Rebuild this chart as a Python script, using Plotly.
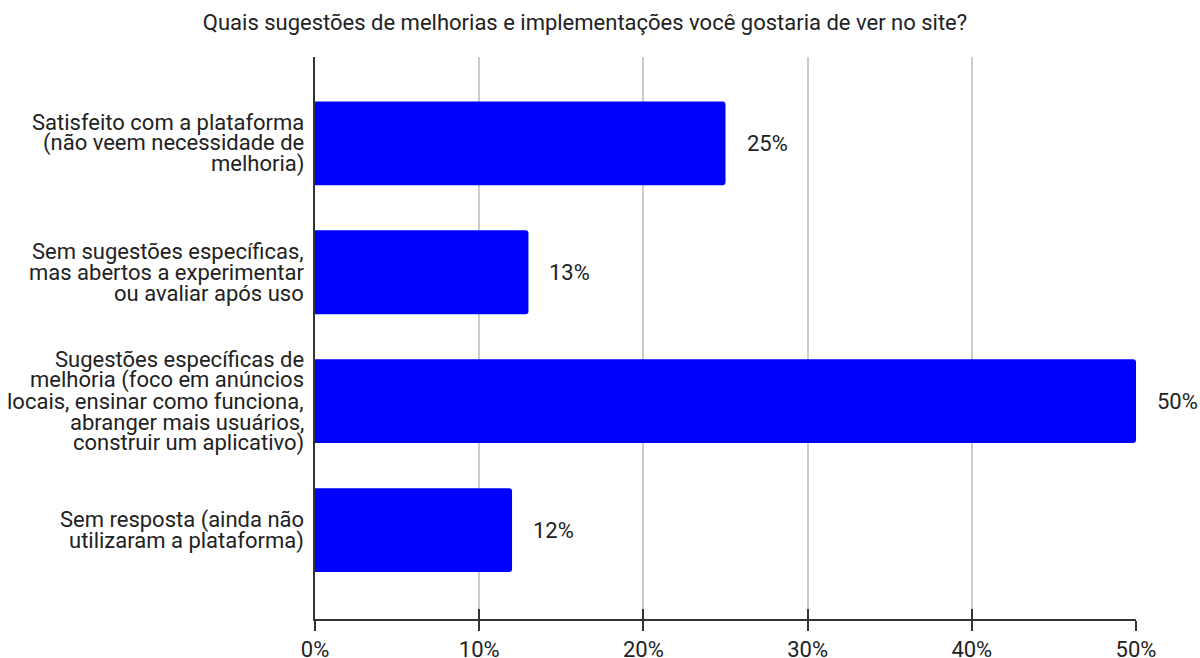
import plotly.graph_objects as go

# Survey categories (top to bottom), one entry per text line, and share of responses in percent
category_lines = [
    ["Satisfeito com a plataforma", "(não veem necessidade de", "melhoria)"],
    ["Sem sugestões específicas,", "mas abertos a experimentar", "ou avaliar após uso"],
    ["Sugestões específicas de", "melhoria (foco em anúncios", "locais, ensinar como funciona,",
     "abranger mais usuários,", "construir um aplicativo)"],
    ["Sem resposta (ainda não", "utilizaram a plataforma)"],
]
categories = [" ".join(lines) for lines in category_lines]
values = [25, 13, 50, 12]
value_labels = ["25%", "13%", "50%", "12%"]
x_ticks = [0, 10, 20, 30, 40, 50]
x_tick_labels = ["0%", "10%", "20%", "30%", "40%", "50%"]

title_text = "Quais sugestões de melhorias e implementações você gostaria de ver no site?"

FONT = "Roboto, Arial, sans-serif"
FONT_SIZE = 22
LINE_HEIGHT = 21
TEXT_COLOR = "#222222"
BAR_COLOR = "#0000ff"
AXIS_COLOR = "#333333"

fig = go.Figure()

fig.add_trace(go.Bar(
    x=values,
    y=categories,
    orientation="h",
    marker=dict(color=BAR_COLOR, line=dict(width=0), cornerradius=3),
    hoverinfo="skip",
))

# Companion trace so the overlay axis (inner tick halves) is drawn
fig.add_trace(go.Scatter(
    x=values, y=categories, xaxis="x2", mode="markers",
    marker=dict(opacity=0), hoverinfo="skip", showlegend=False,
))

# Value labels just beyond each bar end
for v, c, lab in zip(values, categories, value_labels):
    fig.add_annotation(
        x=v, y=c, xref="x", yref="y", text=lab, showarrow=False,
        xanchor="left", yanchor="middle", xshift=19,
        font=dict(family=FONT, size=FONT_SIZE, color=TEXT_COLOR),
    )

# Category labels, right-aligned against the axis with tight line spacing
for c, lines in zip(categories, category_lines):
    n = len(lines)
    for i, line in enumerate(lines):
        fig.add_annotation(
            x=0, y=c, xref="paper", yref="y", text=line, showarrow=False,
            xanchor="right", yanchor="middle", align="right",
            xshift=-9, yshift=((n - 1) / 2 - i) * LINE_HEIGHT,
            font=dict(family=FONT, size=FONT_SIZE, color=TEXT_COLOR),
        )

fig.update_layout(
    width=1200, height=658,
    margin=dict(l=315, r=64, t=57, b=39),
    paper_bgcolor="white", plot_bgcolor="white",
    showlegend=False,
    bargap=0.35,
    font=dict(family=FONT, size=FONT_SIZE, color=TEXT_COLOR),
    title=dict(
        text=title_text, x=0.4875, xanchor="center", xref="container",
        y=1 - 22 / 658, yanchor="middle", yref="container",
        font=dict(family=FONT, size=FONT_SIZE, color=TEXT_COLOR),
    ),
    xaxis=dict(
        range=[0, 50], tickvals=x_ticks, ticktext=x_tick_labels,
        showgrid=True, gridcolor="#cccccc", gridwidth=1.5,
        zeroline=False, showline=True, linecolor=AXIS_COLOR, linewidth=1.5,
        ticks="outside", ticklen=10, tickwidth=1.5, tickcolor=AXIS_COLOR,
        tickfont=dict(family=FONT, size=FONT_SIZE, color=TEXT_COLOR),
        automargin=False, fixedrange=True,
    ),
    xaxis2=dict(
        range=[0, 50], tickvals=x_ticks, overlaying="x", anchor="y",
        side="bottom", showgrid=False, zeroline=False, showline=False,
        showticklabels=False, ticks="inside", ticklen=10, tickwidth=1.5,
        tickcolor=AXIS_COLOR, automargin=False, fixedrange=True,
    ),
    yaxis=dict(
        range=[3.69, -0.67], showgrid=False, zeroline=False,
        showline=True, linecolor=AXIS_COLOR, linewidth=1.5,
        ticks="", showticklabels=False,
        automargin=False, fixedrange=True,
    ),
)

fig.write_html("out.html", config={"displayModeBar": False})
